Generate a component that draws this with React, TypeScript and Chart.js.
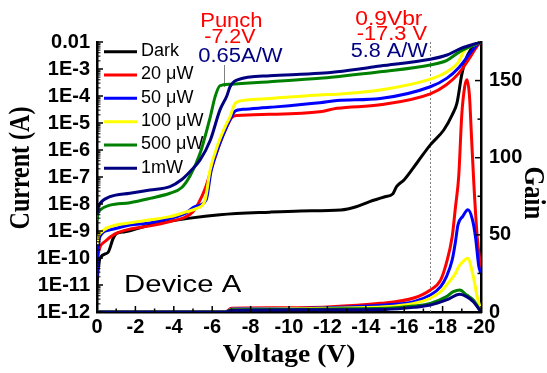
import { useEffect, useRef } from "react";
import { Chart, registerables } from "chart.js";

Chart.register(...registerables);

// ---------- Data (voltage in V, current in A) ----------
const SERIES_LABELS = ["Dark", "20 μW", "50 μW", "100 μW", "500 μW", "1mW"];
const SERIES_COLORS = ["#000000", "#ff0000", "#0000ff", "#ffff00", "#008000", "#000080"];

const DARK_V = [0, -0.05, -0.16, -0.57, -0.85, -1.02, -1.46, -2.76, -4.85, -6.4, -9.0, -10.6, -12.7, -13.5, -14.2, -15.0, -15.4, -15.6, -16.0, -16.66, -17.36, -18.06, -18.5, -18.75, -19.0, -19.19, -19.45, -19.85, -20];
const DARK_I = [1.0e-11, 3.2e-11, 1.0e-10, 1.6e-10, 5.5e-10, 8.1e-10, 9.3e-10, 1.66e-9, 3.0e-9, 4.0e-9, 5.0e-9, 5.5e-9, 6.0e-9, 7.9e-9, 1.23e-8, 1.86e-8, 2.34e-8, 4.4e-8, 7.9e-8, 3.3e-7, 1.55e-6, 5.5e-6, 2.0e-5, 5.6e-5, 6.3e-4, 2.1e-3, 5.0e-3, 8.9e-3, 1.0e-2];

const RED_V = [0, -0.05, -0.16, -0.4, -0.94, -1.7, -2.76, -3.8, -4.6, -5.0, -5.3, -5.65, -6.0, -6.4, -6.75, -7.02, -7.3, -9.0, -11.6, -12.5, -14.75, -17.36, -18.2, -18.84, -19.4, -19.8, -20];
const RED_I = [5.0e-11, 1.26e-10, 2.6e-10, 4.0e-10, 7.8e-10, 1.17e-9, 1.55e-9, 2.24e-9, 3.3e-9, 5.2e-9, 1.12e-8, 4.0e-8, 2.5e-7, 1.78e-6, 7.1e-6, 1.6e-5, 1.9e-5, 2.1e-5, 2.6e-5, 3.5e-5, 4.7e-5, 1.2e-4, 2.6e-4, 6.9e-4, 2.5e-3, 7.1e-3, 1.0e-2];

const BLUE_V = [0, -0.05, -0.16, -0.68, -1.71, -2.76, -3.8, -4.6, -5.1, -5.68, -5.95, -6.4, -6.75, -7.0, -7.2, -7.6, -9.0, -11.6, -12.5, -14.75, -17.36, -18.23, -18.84, -19.45, -19.8, -20];
const BLUE_I = [2.0e-11, 1.6e-10, 6.3e-10, 1.1e-9, 1.66e-9, 2.0e-9, 2.95e-9, 4.5e-9, 7.9e-9, 1.4e-8, 1.8e-7, 1.78e-6, 7.2e-6, 1.7e-5, 2.8e-5, 3.2e-5, 3.8e-5, 5.6e-5, 6.8e-5, 8.1e-5, 2.2e-4, 4.6e-4, 1.12e-3, 4.0e-3, 7.9e-3, 1.0e-2];

const YELLOW_V = [0, -0.05, -0.16, -0.68, -1.71, -2.76, -3.8, -4.6, -5.2, -5.63, -5.89, -6.32, -6.67, -6.93, -7.2, -7.8, -9.0, -11.6, -12.5, -14.75, -17.36, -18.23, -18.84, -19.1, -19.5, -20];
const YELLOW_I = [3.2e-10, 5.6e-10, 8.1e-10, 1.45e-9, 2.0e-9, 2.6e-9, 3.4e-9, 5.0e-9, 6.9e-9, 1.4e-8, 1.8e-7, 1.78e-6, 7.2e-6, 1.7e-5, 5.4e-5, 7.1e-5, 8.1e-5, 1.1e-4, 1.17e-4, 1.66e-4, 4.2e-4, 7.9e-4, 1.86e-3, 4.5e-3, 7.1e-3, 1.0e-2];

const GREEN_V = [0, -0.05, -0.16, -0.68, -1.71, -2.76, -3.8, -4.4, -4.85, -5.37, -5.9, -6.15, -6.4, -6.93, -9.0, -11.6, -12.5, -14.75, -17.36, -18.23, -18.9, -19.45, -20];
const GREEN_I = [2.5e-9, 4.5e-9, 6.0e-9, 9.1e-9, 1.12e-8, 1.62e-8, 2.5e-8, 4.0e-8, 1.12e-7, 7.6e-7, 1.7e-5, 9.3e-5, 2.4e-4, 2.75e-4, 3.4e-4, 4.5e-4, 5.2e-4, 7.9e-4, 1.41e-3, 2.1e-3, 4.4e-3, 6.8e-3, 1.0e-2];

const NAVY_V = [0, -0.05, -0.16, -0.68, -1.71, -2.76, -3.8, -4.4, -4.85, -5.37, -5.9, -6.4, -6.76, -6.93, -7.28, -9.0, -11.6, -12.5, -14.75, -17.36, -18.23, -18.9, -19.45, -20];
const NAVY_I = [4.0e-9, 7.1e-9, 1.05e-8, 1.86e-8, 2.5e-8, 3.3e-8, 4.4e-8, 7.9e-8, 1.6e-7, 4.3e-7, 2.3e-6, 3.0e-5, 1.0e-4, 2.2e-4, 3.9e-4, 5.6e-4, 6.9e-4, 7.9e-4, 1.29e-3, 2.3e-3, 3.3e-3, 5.6e-3, 7.6e-3, 1.0e-2];

// Gain (right axis)
const GAIN_RED_V = [0, -6.7, -7.0, -9, -12, -14.75, -16.5, -17.36, -17.9, -18.2, -18.5, -18.67, -18.84, -19.0, -19.15, -19.27, -19.4, -19.5, -19.62, -19.8, -20];
const GAIN_RED = [0, 0, 2.5, 2.8, 3.3, 5.6, 9.1, 14.3, 20.8, 31.8, 48.9, 68, 88, 128, 146, 150.6, 140, 115, 85, 49, 27];

const GAIN_BLUE_V = [0, -6.7, -7.0, -9, -12, -15, -16.5, -17.36, -17.9, -18.2, -18.5, -18.67, -18.8, -19.05, -19.32, -19.55, -19.72, -19.88, -20];
const GAIN_BLUE = [0, 0, 2, 2.2, 2.8, 4.5, 6.7, 11, 16.4, 22.9, 33.8, 45.6, 56.5, 62, 66.2, 60, 48, 30, 25];

const GAIN_YELLOW_V = [0, -6.7, -7.0, -9, -12, -15, -16.5, -17.36, -17.9, -18.2, -18.5, -18.67, -18.84, -19.05, -19.3, -19.6, -19.8, -20];
const GAIN_YELLOW = [0, 0, 1.8, 2, 2.5, 3.4, 5.6, 8.9, 13.2, 17.5, 21.9, 25.1, 29.4, 32.5, 34.9, 22.9, 10, 1];

const GAIN_GREEN_V = [0, -6.7, -7.0, -9, -12, -15, -16.5, -17.36, -18.2, -18.56, -18.9, -19.25, -19.6, -20];
const GAIN_GREEN = [0, 0, 1.5, 1.6, 2, 2.4, 3.9, 5.6, 10, 13.2, 14.3, 11, 7.8, 0];

const GAIN_NAVY_V = [0, -6.7, -7.0, -9, -12, -15, -16.5, -17.36, -18.2, -18.9, -19.25, -19.6, -20];
const GAIN_NAVY = [0, 0, 1.2, 1.3, 1.5, 1.7, 3, 4.5, 7.8, 11.5, 10, 6.7, 0];

// Ticks
const LEFT_TICK_VALUES = [1e-12, 1e-11, 1e-10, 1e-9, 1e-8, 1e-7, 1e-6, 1e-5, 1e-4, 1e-3, 1e-2];
const LEFT_TICK_LABELS = ["1E-12", "1E-11", "1E-10", "1E-9", "1E-8", "1E-7", "1E-6", "1E-5", "1E-4", "1E-3", "0.01"];
const RIGHT_TICK_VALUES = [0, 50, 100, 150];
const X_MIN = -20;
const X_MAX = 0;

// Annotation values
const PUNCH_V = -7.0;
const PUNCH_MARK_V = -6.62;
const VBR_LINE_V = -17.36;
const VBR_TEXT_V = -15.2;

const SANS = "'Liberation Sans', Arial, sans-serif";
const SERIF = "'Liberation Serif', 'Times New Roman', serif";

const CURRENT_V = [DARK_V, RED_V, BLUE_V, YELLOW_V, GREEN_V, NAVY_V];
const CURRENT_I = [DARK_I, RED_I, BLUE_I, YELLOW_I, GREEN_I, NAVY_I];
const GAIN_V = [GAIN_RED_V, GAIN_BLUE_V, GAIN_YELLOW_V, GAIN_GREEN_V, GAIN_NAVY_V];
const GAIN_G = [GAIN_RED, GAIN_BLUE, GAIN_YELLOW, GAIN_GREEN, GAIN_NAVY];

function txt(ctx: CanvasRenderingContext2D, text: string, x: number, y: number, font: string, color: string, align: CanvasTextAlign, sx: number, sy = 1, rot = 0, baseline: CanvasTextBaseline = "alphabetic") {
  ctx.save();
  ctx.font = font;
  ctx.fillStyle = color;
  ctx.textAlign = align;
  ctx.textBaseline = baseline;
  ctx.translate(x, y);
  if (rot) ctx.rotate(rot);
  ctx.scale(sx, sy);
  ctx.fillText(text, 0, 0);
  ctx.restore();
}

const decorPlugin = {
  id: "decor",
  beforeDatasetsDraw(chart: any) {
    const { ctx, chartArea, scales } = chart;
    const xs = scales.x;
    ctx.save();
    // dotted 0.9Vbr line
    ctx.strokeStyle = "#808080";
    ctx.lineWidth = 1;
    ctx.setLineDash([2, 2]);
    const xv = Math.round(xs.getPixelForValue(VBR_LINE_V)) + 0.5;
    ctx.beginPath();
    ctx.moveTo(xv, chartArea.top);
    ctx.lineTo(xv, chartArea.bottom);
    ctx.stroke();
    ctx.setLineDash([]);
    // punch pointer
    const xp = Math.round(xs.getPixelForValue(PUNCH_MARK_V)) + 0.5;
    ctx.beginPath();
    ctx.moveTo(xp, chartArea.top + 23);
    ctx.lineTo(xp, chartArea.top + 45);
    ctx.stroke();
    ctx.restore();
  },
  afterDraw(chart: any) {
    const { ctx, chartArea, scales } = chart;
    const xs = scales.x, ys = scales.y, y1 = scales.y1;
    ctx.save();
    ctx.strokeStyle = "#000";
    ctx.lineWidth = 1.5;
    // x ticks (inward)
    for (let v = X_MAX; v >= X_MIN; v--) {
      const px = xs.getPixelForValue(v);
      const len = v % 2 === 0 ? 6 : 3.5;
      ctx.beginPath();
      ctx.moveTo(px, chartArea.bottom);
      ctx.lineTo(px, chartArea.bottom - len);
      ctx.stroke();
    }
    // left log ticks
    for (let e = -12; e <= -2; e++) {
      const base = Math.pow(10, e);
      const py = ys.getPixelForValue(base);
      ctx.beginPath();
      ctx.moveTo(chartArea.left, py);
      ctx.lineTo(chartArea.left + 6, py);
      ctx.stroke();
      if (e < -2) {
        for (let k = 2; k <= 9; k++) {
          const pm = ys.getPixelForValue(k * base);
          ctx.lineWidth = 1;
          ctx.beginPath();
          ctx.moveTo(chartArea.left, pm);
          ctx.lineTo(chartArea.left + 3.5, pm);
          ctx.stroke();
          ctx.lineWidth = 1.5;
        }
      }
    }
    // right ticks
    for (let g = 0; g <= 175; g += 25) {
      const py = y1.getPixelForValue(g);
      const len = g % 50 === 0 ? 6 : 3.5;
      ctx.beginPath();
      ctx.moveTo(chartArea.right, py);
      ctx.lineTo(chartArea.right - len, py);
      ctx.stroke();
    }
    ctx.restore();

    // legend
    const labels = SERIES_LABELS;
    for (let i = 0; i < labels.length; i++) {
      const yy = chartArea.top + 9.7 + i * 23.33;
      ctx.save();
      ctx.strokeStyle = SERIES_COLORS[i];
      ctx.lineWidth = 3;
      ctx.beginPath();
      ctx.moveTo(chartArea.left + 7, yy);
      ctx.lineTo(chartArea.left + 40, yy);
      ctx.stroke();
      ctx.restore();
      txt(ctx, labels[i], chartArea.left + 44, yy - 0.7, `18px ${SANS}`, "#000", "left", 1, 1, 0, "middle");
    }

    // annotations
    const red = "#ff0000";
    const navy = "#000080";
    const xPunch = xs.getPixelForValue(PUNCH_V);
    txt(ctx, "Punch", xPunch, 27, `20px ${SANS}`, red, "center", 1.1);
    txt(ctx, "-7.2V", xPunch - 1.5, 43, `20px ${SANS}`, red, "center", 1.07);
    txt(ctx, "0.65A/W", xPunch + 9, 61.5, `20px ${SANS}`, navy, "center", 1.1);
    const xVbr = xs.getPixelForValue(VBR_TEXT_V);
    txt(ctx, "0.9Vbr", xVbr, 25, `20px ${SANS}`, red, "center", 1.14);
    txt(ctx, "-17.3 V", xVbr + 3, 40, `20px ${SANS}`, red, "center", 1.09);
    txt(ctx, "5.8 A/W", xVbr + 0.3, 57.3, `20px ${SANS}`, navy, "center", 1.08);
    txt(ctx, "Device A", chartArea.left + 27, 292, `24px ${SANS}`, "#000", "left", 1.22);

    // axis titles
    txt(ctx, "Voltage (V)", (chartArea.left + chartArea.right) / 2, 361.5, `bold 25px ${SERIF}`, "#000", "center", 1.1);
    txt(ctx, "Current (A)", 29, 168, `bold 24px ${SERIF}`, "#000", "center", 1, 1.2, -Math.PI / 2);
    txt(ctx, "Gain", 525, 193, `bold 25px ${SERIF}`, "#000", "center", 1, 1.15, Math.PI / 2);
  },
};

export default function App() {
  const ref = useRef<HTMLCanvasElement | null>(null);
  useEffect(() => {
    document.body.style.margin = "0";
    if (!ref.current) return;
    const datasets: any[] = [];
    CURRENT_V.forEach((vs, i) => {
      datasets.push({
        label: SERIES_LABELS[i],
        data: vs.map((v, j) => ({ x: v, y: CURRENT_I[i][j] })),
        yAxisID: "y",
        borderColor: SERIES_COLORS[i],
        backgroundColor: SERIES_COLORS[i],
        borderWidth: 3,
        pointRadius: 0,
        cubicInterpolationMode: "monotone",
        fill: false,
        order: 100 - i,
      });
    });
    GAIN_V.forEach((vs, i) => {
      datasets.push({
        label: SERIES_LABELS[i + 1] + " gain",
        data: vs.map((v, j) => ({ x: v, y: GAIN_G[i][j] })),
        yAxisID: "y1",
        borderColor: SERIES_COLORS[i + 1],
        backgroundColor: SERIES_COLORS[i + 1],
        borderWidth: 3,
        pointRadius: 0,
        cubicInterpolationMode: "monotone",
        fill: false,
        order: 50 - i,
      });
    });
    const tickFont = { family: SANS, size: 20, weight: "bold" as const };
    const border = { display: true, color: "#000", width: 2.5 };
    const chart = new Chart(ref.current, {
      type: "line",
      data: { datasets },
      plugins: [decorPlugin],
      options: {
        animation: false,
        responsive: true,
        maintainAspectRatio: false,
        layout: { padding: { top: 42, left: 0, right: 0, bottom: 0 } },
        plugins: { legend: { display: false }, tooltip: { enabled: false } },
        scales: {
          x: {
            type: "linear",
            min: X_MIN,
            max: X_MAX,
            reverse: true,
            afterFit: (s: any) => { s.height = 61; },
            grid: { display: false, drawTicks: false },
            border,
            ticks: {
              stepSize: 2,
              padding: 3,
              autoSkip: false,
              maxRotation: 0,
              font: tickFont,
              color: "#000",
              callback: (v: any) => String(v),
            },
          },
          y: {
            type: "logarithmic",
            position: "left",
            min: 1e-12,
            max: 1e-2,
            afterFit: (s: any) => { s.width = 97; },
            afterBuildTicks: (s: any) => { s.ticks = LEFT_TICK_VALUES.map((v) => ({ value: v })); },
            grid: { display: false, drawTicks: false },
            border,
            ticks: {
              padding: 7,
              autoSkip: false,
              font: tickFont,
              color: "#000",
              callback: (_v: any, i: number) => LEFT_TICK_LABELS[i],
            },
          },
          y1: {
            type: "linear",
            position: "right",
            min: 0,
            max: 175,
            afterFit: (s: any) => { s.width = 66; },
            afterBuildTicks: (s: any) => { s.ticks = RIGHT_TICK_VALUES.map((v) => ({ value: v })); },
            grid: { display: false, drawTicks: false },
            border,
            ticks: {
              padding: 8,
              autoSkip: false,
              font: tickFont,
              color: "#000",
              callback: (v: any) => String(v),
            },
          },
        },
      } as any,
    });
    return () => chart.destroy();
  }, []);
  return (
    <div style={{ position: "absolute", left: 0, top: 0, width: 547, height: 373, background: "#fff" }}>
      <canvas ref={ref} />
    </div>
  );
}
